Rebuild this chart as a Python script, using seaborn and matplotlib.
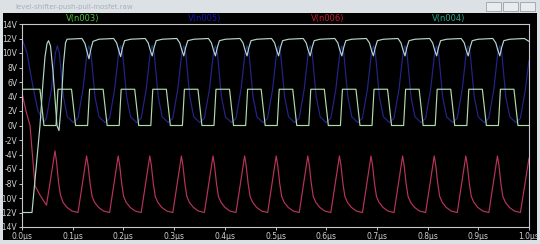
import matplotlib
matplotlib.use("Agg")
import matplotlib.pyplot as plt
from matplotlib.patches import Rectangle
import seaborn as sns
import pandas as pd

# ---------------- data (time in µs, voltage in V) ----------------
n003_t = [0.0, 0.0354, 0.0433,
          0.0671, 0.0710, 0.0977, 0.1056,
          0.1294, 0.1333, 0.1600, 0.1679,
          0.1917, 0.1956, 0.2223, 0.2302,
          0.2541, 0.2580, 0.2847, 0.2926,
          0.3164, 0.3203, 0.3470, 0.3549,
          0.3787, 0.3826, 0.4093, 0.4172,
          0.4411, 0.4450, 0.4717, 0.4796,
          0.5034, 0.5073, 0.5340, 0.5419,
          0.5657, 0.5696, 0.5963, 0.6042,
          0.6281, 0.6320, 0.6587, 0.6666,
          0.6904, 0.6943, 0.7210, 0.7289,
          0.7527, 0.7566, 0.7833, 0.7912,
          0.8150, 0.8189, 0.8456, 0.8535,
          0.8774, 0.8813, 0.9080, 0.9159,
          0.9397, 0.9436, 0.9703, 0.9782,
          1.0]
n003_v = [5, 5, 0,
          0, 5, 5, 0,
          0, 5, 5, 0,
          0, 5, 5, 0,
          0, 5, 5, 0,
          0, 5, 5, 0,
          0, 5, 5, 0,
          0, 5, 5, 0,
          0, 5, 5, 0,
          0, 5, 5, 0,
          0, 5, 5, 0,
          0, 5, 5, 0,
          0, 5, 5, 0,
          0, 5, 5, 0,
          0, 5, 5, 0,
          0, 5, 5, 0,
          0]

n004_t = [0.0, 0.0197, 0.0276, 0.0355, 0.0414, 0.0454, 0.0493, 0.0523, 0.0562,
          0.0611, 0.0690, 0.0730, 0.0769, 0.0818, 0.0858, 0.0888,
          0.1183, 0.1242, 0.1282, 0.1321, 0.1360, 0.1400, 0.1518,
          0.1807, 0.1866, 0.1906, 0.1945, 0.1984, 0.2024, 0.2142,
          0.2430, 0.2489, 0.2529, 0.2568, 0.2607, 0.2647, 0.2765,
          0.3053, 0.3112, 0.3152, 0.3191, 0.3230, 0.3270, 0.3388,
          0.3677, 0.3736, 0.3776, 0.3815, 0.3854, 0.3894, 0.4012,
          0.4300, 0.4359, 0.4399, 0.4438, 0.4477, 0.4517, 0.4635,
          0.4923, 0.4982, 0.5022, 0.5061, 0.5100, 0.5140, 0.5258,
          0.5546, 0.5605, 0.5645, 0.5684, 0.5723, 0.5763, 0.5881,
          0.6170, 0.6229, 0.6269, 0.6308, 0.6347, 0.6387, 0.6505,
          0.6793, 0.6852, 0.6892, 0.6931, 0.6970, 0.7010, 0.7128,
          0.7416, 0.7475, 0.7515, 0.7554, 0.7593, 0.7633, 0.7751,
          0.8040, 0.8099, 0.8139, 0.8178, 0.8217, 0.8257, 0.8375,
          0.8663, 0.8722, 0.8762, 0.8801, 0.8840, 0.8880, 0.8998,
          0.9286, 0.9345, 0.9385, 0.9424, 0.9463, 0.9503, 0.9621,
          0.9909, 1.0]
n004_v = [-12.0, -12.0, -6.0, 0.0, 6.0, 9.5, 11.3, 11.7, 11.0,
          7.5, 0.0, -0.7, 2.5, 8.5, 11.4, 11.9,
          12.0, 11.3, 10.2, 9.2, 10.6, 11.6, 11.9,
          12.0, 11.4, 10.4, 9.5, 10.8, 11.7, 11.9,
          12.0, 11.4, 10.4, 9.6, 10.8, 11.7, 11.9,
          12.0, 11.4, 10.4, 9.6, 10.8, 11.7, 11.9,
          12.0, 11.4, 10.4, 9.6, 10.8, 11.7, 11.9,
          12.0, 11.4, 10.4, 9.6, 10.8, 11.7, 11.9,
          12.0, 11.4, 10.4, 9.6, 10.8, 11.7, 11.9,
          12.0, 11.4, 10.4, 9.6, 10.8, 11.7, 11.9,
          12.0, 11.4, 10.4, 9.6, 10.8, 11.7, 11.9,
          12.0, 11.4, 10.4, 9.6, 10.8, 11.7, 11.9,
          12.0, 11.4, 10.4, 9.6, 10.8, 11.7, 11.9,
          12.0, 11.4, 10.4, 9.6, 10.8, 11.7, 11.9,
          12.0, 11.4, 10.4, 9.6, 10.8, 11.7, 11.9,
          12.0, 11.4, 10.4, 9.6, 10.8, 11.7, 11.9,
          12.0, 11.6]

n005_t = [0.0, 0.0099, 0.0217, 0.0316, 0.0434,
          0.0481, 0.0580, 0.0659, 0.0698, 0.0737, 0.0816, 0.0895, 0.1014,
          0.1104, 0.1203, 0.1282, 0.1321, 0.1360, 0.1439, 0.1518, 0.1637,
          0.1728, 0.1827, 0.1906, 0.1945, 0.1984, 0.2063, 0.2142, 0.2261,
          0.2351, 0.2450, 0.2529, 0.2568, 0.2607, 0.2686, 0.2765, 0.2884,
          0.2974, 0.3073, 0.3152, 0.3191, 0.3230, 0.3309, 0.3388, 0.3507,
          0.3598, 0.3697, 0.3776, 0.3815, 0.3854, 0.3933, 0.4012, 0.4131,
          0.4221, 0.4320, 0.4399, 0.4438, 0.4477, 0.4556, 0.4635, 0.4754,
          0.4844, 0.4943, 0.5022, 0.5061, 0.5100, 0.5179, 0.5258, 0.5377,
          0.5467, 0.5566, 0.5645, 0.5684, 0.5723, 0.5802, 0.5881, 0.6000,
          0.6091, 0.6190, 0.6269, 0.6308, 0.6347, 0.6426, 0.6505, 0.6624,
          0.6714, 0.6813, 0.6892, 0.6931, 0.6970, 0.7049, 0.7128, 0.7247,
          0.7337, 0.7436, 0.7515, 0.7554, 0.7593, 0.7672, 0.7751, 0.7870,
          0.7961, 0.8060, 0.8139, 0.8178, 0.8217, 0.8296, 0.8375, 0.8494,
          0.8584, 0.8683, 0.8762, 0.8801, 0.8840, 0.8919, 0.8998, 0.9117,
          0.9207, 0.9306, 0.9385, 0.9424, 0.9463, 0.9542, 0.9621, 0.9740,
          0.9830, 0.9929, 1.0]
n005_v = [12.0, 10.0, 5.3, 2.0, 0.5,
          1.0, 5.0, 10.0, 11.0, 10.0, 4.0, 1.2, 0.4,
          1.0, 5.0, 10.0, 11.0, 10.0, 4.0, 1.2, 0.4,
          1.0, 5.0, 10.0, 11.0, 10.0, 4.0, 1.2, 0.4,
          1.0, 5.0, 10.0, 11.0, 10.0, 4.0, 1.2, 0.4,
          1.0, 5.0, 10.0, 11.0, 10.0, 4.0, 1.2, 0.4,
          1.0, 5.0, 10.0, 11.0, 10.0, 4.0, 1.2, 0.4,
          1.0, 5.0, 10.0, 11.0, 10.0, 4.0, 1.2, 0.4,
          1.0, 5.0, 10.0, 11.0, 10.0, 4.0, 1.2, 0.4,
          1.0, 5.0, 10.0, 11.0, 10.0, 4.0, 1.2, 0.4,
          1.0, 5.0, 10.0, 11.0, 10.0, 4.0, 1.2, 0.4,
          1.0, 5.0, 10.0, 11.0, 10.0, 4.0, 1.2, 0.4,
          1.0, 5.0, 10.0, 11.0, 10.0, 4.0, 1.2, 0.4,
          1.0, 5.0, 10.0, 11.0, 10.0, 4.0, 1.2, 0.4,
          1.0, 5.0, 10.0, 11.0, 10.0, 4.0, 1.2, 0.4,
          1.0, 5.0, 10.0, 11.0, 10.0, 4.0, 1.2, 0.4,
          1.0, 5.0, 9.0]

n006_t = [0.0, 0.0079, 0.0158, 0.0217, 0.0256, 0.0355, 0.0483,
          0.0651, 0.0681, 0.0720, 0.0759, 0.0809, 0.0888, 0.0986, 0.1105,
          0.1274, 0.1304, 0.1343, 0.1382, 0.1432, 0.1511, 0.1609, 0.1728,
          0.1897, 0.1927, 0.1966, 0.2005, 0.2055, 0.2134, 0.2232, 0.2351,
          0.2521, 0.2551, 0.2590, 0.2629, 0.2679, 0.2758, 0.2856, 0.2975,
          0.3144, 0.3174, 0.3213, 0.3252, 0.3302, 0.3381, 0.3479, 0.3598,
          0.3767, 0.3797, 0.3836, 0.3875, 0.3925, 0.4004, 0.4102, 0.4221,
          0.4391, 0.4421, 0.4460, 0.4499, 0.4549, 0.4628, 0.4726, 0.4845,
          0.5014, 0.5044, 0.5083, 0.5122, 0.5172, 0.5251, 0.5349, 0.5468,
          0.5637, 0.5667, 0.5706, 0.5745, 0.5795, 0.5874, 0.5972, 0.6091,
          0.6261, 0.6291, 0.6330, 0.6369, 0.6419, 0.6498, 0.6596, 0.6715,
          0.6884, 0.6914, 0.6953, 0.6992, 0.7042, 0.7121, 0.7219, 0.7338,
          0.7507, 0.7537, 0.7576, 0.7615, 0.7665, 0.7744, 0.7842, 0.7961,
          0.8131, 0.8161, 0.8200, 0.8239, 0.8289, 0.8368, 0.8466, 0.8585,
          0.8754, 0.8784, 0.8823, 0.8862, 0.8912, 0.8991, 0.9089, 0.9208,
          0.9377, 0.9407, 0.9446, 0.9485, 0.9535, 0.9614, 0.9712, 0.9831,
          1.0]
n006_v = [4.5, 2.0, 0.0, -5.0, -8.3, -9.6, -11.0,
          -3.5, -5.0, -7.8, -9.6, -10.6, -11.3, -11.8, -12.0,
          -4.2, -5.5, -8.0, -9.8, -10.6, -11.3, -11.8, -12.0,
          -4.2, -5.5, -8.0, -9.8, -10.6, -11.3, -11.8, -12.0,
          -4.2, -5.5, -8.0, -9.8, -10.6, -11.3, -11.8, -12.0,
          -4.2, -5.5, -8.0, -9.8, -10.6, -11.3, -11.8, -12.0,
          -4.2, -5.5, -8.0, -9.8, -10.6, -11.3, -11.8, -12.0,
          -4.2, -5.5, -8.0, -9.8, -10.6, -11.3, -11.8, -12.0,
          -4.2, -5.5, -8.0, -9.8, -10.6, -11.3, -11.8, -12.0,
          -4.2, -5.5, -8.0, -9.8, -10.6, -11.3, -11.8, -12.0,
          -4.2, -5.5, -8.0, -9.8, -10.6, -11.3, -11.8, -12.0,
          -4.2, -5.5, -8.0, -9.8, -10.6, -11.3, -11.8, -12.0,
          -4.2, -5.5, -8.0, -9.8, -10.6, -11.3, -11.8, -12.0,
          -4.2, -5.5, -8.0, -9.8, -10.6, -11.3, -11.8, -12.0,
          -4.2, -5.5, -8.0, -9.8, -10.6, -11.3, -11.8, -12.0,
          -4.2, -5.5, -8.0, -9.8, -10.6, -11.3, -11.8, -12.0,
          -4.5]

trace_names = ["V(n003)", "V(n005)", "V(n006)", "V(n004)"]
y_ticks = [-14, -12, -10, -8, -6, -4, -2, 0, 2, 4, 6, 8, 10, 12, 14]
x_ticks = [0.0, 0.1, 0.2, 0.3, 0.4, 0.5, 0.6, 0.7, 0.8, 0.9, 1.0]
window_title = "level-shifter-push-pull-mosfet.raw"

# ---------------- figure ----------------
sns.set_theme(style="dark")
plt.rcParams["font.family"] = ["DejaVu Sans"]

W, H = 540, 244
fig = plt.figure(figsize=(W / 100, H / 100), dpi=100)
fig.patch.set_facecolor("#dce1e6")

# black plot window (background panel, behind the axes)
bg = fig.add_axes([3 / W, 1 - 240 / H, 534 / W, 227 / H], zorder=0)
bg.set_facecolor("black")
bg.set_xticks([])
bg.set_yticks([])
for s in bg.spines.values():
    s.set_visible(False)

# title text & window buttons
fig.text(15 / W, 1 - 6.5 / H, window_title, color="#a8b0b8", fontsize=5,
         ha="left", va="center")
for bx in (486, 503, 520):
    fig.patches.append(Rectangle((bx / W, 1 - 11 / H), 15 / W, 9 / H,
                                 transform=fig.transFigure, facecolor="#e8ecef",
                                 edgecolor="#9aa2aa", linewidth=0.6, zorder=1))

ax = fig.add_axes([22 / W, 1 - 227 / H, 507 / W, 203 / H], zorder=2)
ax.set_facecolor("black")

colors = {"V(n003)": "#b0dcaa", "V(n005)": "#24248a",
          "V(n006)": "#b83458", "V(n004)": "#b4d8c8"}
label_colors = {"V(n003)": "#4cc23c", "V(n005)": "#1818b0",
                "V(n006)": "#c81e32", "V(n004)": "#2aa888"}

series = {"V(n003)": (n003_t, n003_v), "V(n005)": (n005_t, n005_v),
          "V(n006)": (n006_t, n006_v), "V(n004)": (n004_t, n004_v)}
for name in ["V(n005)", "V(n006)", "V(n003)", "V(n004)"]:
    t, v = series[name]
    df = pd.DataFrame({"t": t, "v": v})
    sns.lineplot(data=df, x="t", y="v", ax=ax, color=colors[name],
                 linewidth=0.85, estimator=None, sort=False)

ax.set_xlim(0, 1.0)
ax.set_ylim(-14, 14)
ax.set_xticks(x_ticks)
ax.set_xticklabels([f"{x:.1f}µs" for x in x_ticks])
ax.set_yticks(y_ticks)
ax.set_yticklabels([f"{y}V" for y in y_ticks])
ax.set_xlabel("")
ax.set_ylabel("")
ax.grid(False)
ax.tick_params(axis="both", direction="out", length=2.5, width=0.7,
               color="#c8c8c8", labelcolor="#d0d0d0", labelsize=5.5, pad=0.8,
               bottom=True, left=True)
for s in ax.spines.values():
    s.set_visible(True)
    s.set_color("#c8c8c8")
    s.set_linewidth(0.8)

label_x = [83, 205, 328, 449]
for name, lx in zip(trace_names, label_x):
    fig.text(lx / W, 1 - 18 / H, name, color=label_colors[name], fontsize=6,
             ha="center", va="center", zorder=5)

fig.savefig("out.png", dpi=100, facecolor=fig.get_facecolor())
